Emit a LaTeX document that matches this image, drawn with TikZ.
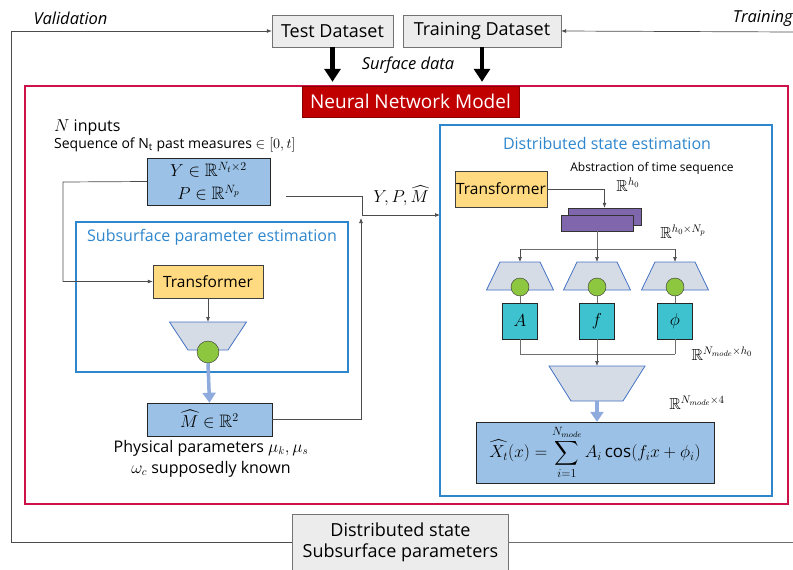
\documentclass[tikz,border=0pt]{standalone}
\usepackage{amsmath,amssymb}
\usepackage{fontspec}
\setmainfont{Open Sans}
\usetikzlibrary{calc,arrows.meta}
\definecolor{boxgray}{RGB}{236,236,236}
\definecolor{tfyellow}{RGB}{255,218,128}
\definecolor{vecblue}{RGB}{155,194,230}
\definecolor{modeteal}{RGB}{62,194,208}
\definecolor{stackpurple}{RGB}{128,102,172}
\definecolor{estblue}{RGB}{46,134,205}
\definecolor{nncrimson}{RGB}{204,18,72}
\definecolor{nnred}{RGB}{192,0,0}
\definecolor{trapblue}{RGB}{68,114,196}
\definecolor{trapgray}{RGB}{214,220,229}
\definecolor{actgreen}{RGB}{141,198,63}
\definecolor{linkgray}{RGB}{110,110,110}
\definecolor{flowblue}{RGB}{143,170,220}
\tikzset{
  dsbox/.style={draw=black!55,fill=boxgray,inner sep=0pt,font=\fontsize{18}{21}\selectfont,align=center},
  tfbox/.style={draw=black!75,fill=tfyellow,inner sep=0pt,font=\fontsize{15.5}{18}\selectfont},
  vecbox/.style={draw=black!85,fill=vecblue,inner sep=0pt,font=\fontsize{18}{23}\selectfont,align=center},
  parbox/.style={draw=black!85,fill=modeteal,inner sep=0pt,minimum width=35pt,minimum height=36pt,font=\fontsize{18}{20}\selectfont},
  stackbox/.style={draw=black!80,fill=stackpurple,inner sep=0pt},
  estframe/.style={draw=estblue,line width=1.5pt},
  esttitle/.style={text=estblue,inner sep=0pt,font=\fontsize{16}{19}\selectfont},
  nnframe/.style={draw=nncrimson,line width=1.6pt},
  trap/.style={draw=trapblue,fill=trapgray,line width=0.8pt},
  act/.style={circle,draw=black!80,fill=actgreen,inner sep=0pt},
  link/.style={draw=linkgray,line width=0.7pt},
  linkarr/.style={link,-{Latex[length=5pt,width=4pt]},draw=black!70},
  fatarr/.style={line width=4.5pt,-{Triangle[length=13pt,width=16pt]}},
  flowarr/.style={draw=flowblue,line width=3.5pt,-{Triangle[length=10pt,width=13pt]}},
  note/.style={inner sep=0pt,font=\fontsize{14}{16}\selectfont},
  dimlabel/.style={inner sep=0pt,font=\fontsize{16}{18}\selectfont},
  sidelabel/.style={inner sep=0pt,font=\itshape\fontsize{16.5}{19}\selectfont},
}

\begin{document}
\begin{tikzpicture}[x=1pt,y=-1pt]
  \useasboundingbox (0,0) rectangle (793,570);
  % datasets and feedback loop
  \node[dsbox,minimum width=121pt,minimum height=32pt] (test) at (332.5,31) {Test Dataset};
  \node[dsbox,minimum width=158pt,minimum height=32pt] (train) at (482,31) {Training Dataset};
  \node[dsbox,minimum width=216pt,minimum height=56pt] (out) at (400.5,542) {Distributed state\\Subsurface parameters};
  \node[sidelabel] (val) at (70.5,18) {Validation};
  \node[sidelabel,anchor=east] (trn) at (793,18) {Training};
  \node[sidelabel] (surf) at (408,65) {Surface data};
  \coordinate (fbl) at (11,542);
  \coordinate (fbr) at (793,542);
  \coordinate (fbt) at (793,32);
  \draw[linkarr] (out.west) -- (fbl) -- (fbl |- test.west) -- (test.west);
  \draw[link] (out.east) -- (fbr);
  \draw[linkarr] (fbt) -- (train.east);
  % network frame
  \draw[nnframe] (25,86) rectangle (788,504);
  \node[fill=nnred,draw=nnred!70!black,text=white,inner sep=0pt,minimum width=217pt,minimum height=31pt,
        font=\fontsize{19}{22}\selectfont] (nnt) at (410.5,101.5) {Neural Network Model};
  \draw[fatarr] (test.south) -- ([yshift=4pt]test.south |- nnt.north);
  \draw[fatarr] (train.south) -- ([yshift=4pt]train.south |- nnt.north);
  % subsurface parameter estimation
  \node[inner sep=0pt,anchor=west,font=\fontsize{16}{18}\selectfont] (nin) at (54,128) {$N$ inputs};
  \node[note,anchor=west] (seq) at (54,145) {Sequence of $\mathrm{N_t}$ past measures $\in[0,t]$};
  \node[vecbox,minimum width=123pt,minimum height=47pt] (yp) at (208.5,181.5)
    {$Y\in\mathbb{R}^{N_t\times 2}$\\$P\in\mathbb{R}^{N_p}$};
  \draw[estframe] (76,222) rectangle (348,372);
  \node[esttitle] (subt) at (212,237) {Subsurface parameter estimation};
  \node[tfbox,minimum width=110pt,minimum height=33pt] (tf1) at (208,281.5) {Transformer};
  \coordinate (t1) at (208,322);
  \draw[trap] (169.5,322) -- (246.5,322) -- (228,350) -- (188,350) -- cycle;
  \node[act,minimum size=22pt] (g1) at (208,352) {};
  \node[vecbox,minimum width=125pt,minimum height=33pt] (mhat) at (209.5,419.5) {$\widehat{M}\in\mathbb{R}^2$};
  \node[inner sep=0pt,align=center,font=\fontsize{16}{21}\selectfont] (phys) at (211,458.5)
    {Physical parameters $\mu_k,\mu_s$\\$\omega_c$ supposedly known};
  \coordinate (lin) at (63,182);
  \draw[linkarr] (yp.west) -- (lin) -- (lin |- tf1.west) -- (tf1.west);
  \draw[linkarr] (tf1.south) -- (t1);
  \draw[flowarr] (g1.south) -- (mhat.north);
  % merging inputs and estimated parameters
  \coordinate (pout) at (286,196);
  \coordinate (join) at (362,215);
  \draw[linkarr] (pout) -- (pout -| join) -- (join) -- (440,215);
  \draw[linkarr] (mhat.east) -- (361,419.5) -- (361,218);
  \node[inner sep=0pt,font=\fontsize{17}{19}\selectfont] (ypm) at (401,196) {$Y,P,\widehat{M}$};
  % distributed state estimation
  \draw[estframe] (440,125) rectangle (772,496);
  \node[esttitle] (dst) at (607,143) {Distributed state estimation};
  \node[inner sep=0pt,font=\fontsize{12}{14}\selectfont] (abs) at (652,168) {Abstraction of time sequence};
  \node[dimlabel] (rh) at (628,185) {$\mathbb{R}^{h_0}$};
  \node[tfbox,minimum width=92pt,minimum height=36pt] (tf2) at (501,189) {Transformer};
  \node[stackbox,minimum width=73pt,minimum height=17pt] (pb) at (604.5,216.5) {};
  \node[stackbox,minimum width=72pt,minimum height=16pt] (pf) at (597,223) {};
  \node[dimlabel] (rhn) at (683,232) {$\mathbb{R}^{h_0\times N_p}$};
  \draw[linkarr] (tf2.east) -| (pb.north);
  \coordinate (split) at (597,249);
  \coordinate (merge) at (597,354);
  \draw[link] (pf.south) -- (split);
  \draw[link] (520,249) -- (675,249);
  \foreach \x/\n/\lab in {520/a/{$A$},597/f/{$f$},675/p/{$\phi$}}
    {\coordinate (t\n) at (\x,262);
     \draw[linkarr] (t\n |- split) -- (t\n);
     \draw[trap] (\x-20,262) -- (\x+20,262) -- (\x+33.5,290) -- (\x-33.5,290) -- cycle;
     \node[act,minimum size=18pt] (g\n) at (\x,287) {};
     \node[parbox] (m\n) at (\x,321) {\lab};
     \draw[link] (g\n) -- (m\n);
     \draw[link] (m\n.south) -- (m\n.south |- merge);}
  \draw[link] (ma.south |- merge) -- (mp.south |- merge);
  \coordinate (t2) at (597,366);
  \draw[linkarr] (merge) -- (t2);
  \node[dimlabel] (rnh) at (722,354) {$\mathbb{R}^{N_{mode}\times h_0}$};
  \draw[trap] (549,366) -- (645,366) -- (623,401) -- (571,401) -- cycle;
  \coordinate (b2) at (597,401);
  \node[dimlabel] (rn4) at (697,403) {$\mathbb{R}^{N_{mode}\times 4}$};
  \node[vecbox,minimum width=238pt,minimum height=61pt,font=\fontsize{17}{19}\selectfont] (form) at (595,452.5)
    {$\displaystyle \widehat{X_t}(x)=\sum_{i=1}^{N_{mode}}A_i\cos(f_ix+\phi_i)$};
  \draw[flowarr] (b2) -- (b2 |- form.north);
\end{tikzpicture}
\end{document}
